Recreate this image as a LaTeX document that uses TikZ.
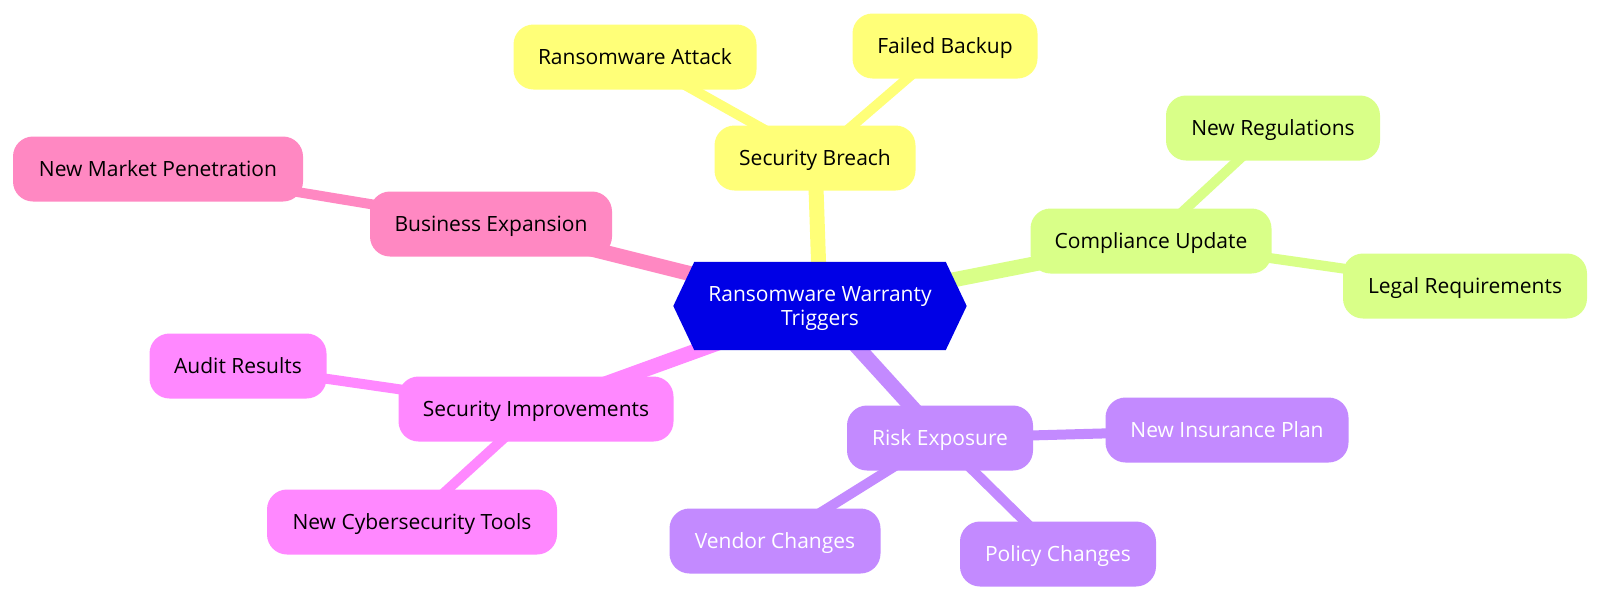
\documentclass[tikz,border=0pt]{standalone}
\usepackage{fontspec}
\setmainfont{Open Sans}
\usetikzlibrary{backgrounds}
\definecolor{cyel}{HTML}{FFFF78}
\definecolor{cgrn}{HTML}{D9FF88}
\definecolor{cpur}{HTML}{C38AFF}
\definecolor{cmag}{HTML}{FF88FF}
\definecolor{cpnk}{HTML}{FF88C2}
\definecolor{croot}{HTML}{0000E6}
\begin{document}
\begin{tikzpicture}[x=1pt,y=-1pt,
  box/.style={rounded corners=20pt, minimum height=65pt, inner sep=0pt,
    text height=16pt, text depth=2pt,
    font=\fontsize{21}{24}\selectfont, align=center},
  rootbox/.style={minimum width=251pt, minimum height=88pt, inner sep=0pt,
    text depth=0pt,
    font=\fontsize{21}{24}\selectfont, align=center, text=white},
  edgeA/.style={line width=15pt},
  edgeB/.style={line width=10pt}
]
\useasboundingbox (0,0) rectangle (1600,600);

\node[rootbox] (root) at (820,306) {Ransomware Warranty\\Triggers};

% Security Breach branch (yellow)
\node[box, fill=cyel, minimum width=201pt] (sb) at (815,158) {Security Breach};
\node[box, fill=cyel, minimum width=243pt] (ra) at (635,57) {Ransomware Attack};
\node[box, fill=cyel, minimum width=185pt] (fb) at (945,46) {Failed Backup};

% Business Expansion branch (pink)
\node[box, fill=cpnk, minimum width=242pt] (be) at (491,224) {Business Expansion};
\node[box, fill=cpnk, minimum width=290pt] (nm) at (158,169) {New Market Penetration};

% Compliance Update branch (green)
\node[box, fill=cgrn, minimum width=241pt] (cu) at (1151,241) {Compliance Update};
\node[box, fill=cgrn, minimum width=214pt] (nr) at (1273,128) {New Regulations};
\node[box, fill=cgrn, minimum width=244pt] (lr) at (1465,286) {Legal Requirements};

% Risk Exposure branch (purple)
\node[box, fill=cpur, text=white, minimum width=186pt] (re) at (940,438) {Risk Exposure};
\node[box, fill=cpur, text=white, minimum width=243pt] (ni) at (1227,430) {New Insurance Plan};
\node[box, fill=cpur, text=white, minimum width=211pt] (vc) at (775,541) {Vendor Changes};
\node[box, fill=cpur, text=white, minimum width=196pt] (pc) at (1058,554) {Policy Changes};

% Security Improvements branch (magenta)
\node[box, fill=cmag, minimum width=275pt] (si) at (536,409) {Security Improvements};
\node[box, fill=cmag, minimum width=177pt] (ar) at (238,366) {Audit Results};
\node[box, fill=cmag, minimum width=290pt] (nc) at (412,522) {New Cybersecurity Tools};

\begin{scope}[on background layer]
\fill[white] (0,0) rectangle (1600,600);
\draw[edgeA, cyel] (root.center) -- (sb.center);
\draw[edgeB, cyel] (sb.center) -- (ra.center);
\draw[edgeB, cyel] (sb.center) -- (fb.center);
\draw[edgeA, cpnk] (root.center) -- (be.center);
\draw[edgeB, cpnk] (be.center) -- (nm.center);
\draw[edgeA, cgrn] (root.center) -- (cu.center);
\draw[edgeB, cgrn] (cu.center) -- (nr.center);
\draw[edgeB, cgrn] (cu.center) -- (lr.center);
\draw[edgeA, cpur] (root.center) -- (re.center);
\draw[edgeB, cpur] (re.center) -- (ni.center);
\draw[edgeB, cpur] (re.center) -- (vc.center);
\draw[edgeB, cpur] (re.center) -- (pc.center);
\draw[edgeA, cmag] (root.center) -- (si.center);
\draw[edgeB, cmag] (si.center) -- (ar.center);
\draw[edgeB, cmag] (si.center) -- (nc.center);
\fill[croot] (root.north west) -- (root.north east) -- ([xshift=21pt]root.east)
  -- (root.south east) -- (root.south west) -- ([xshift=-21pt]root.west) -- cycle;
\end{scope}
\end{tikzpicture}
\end{document}
